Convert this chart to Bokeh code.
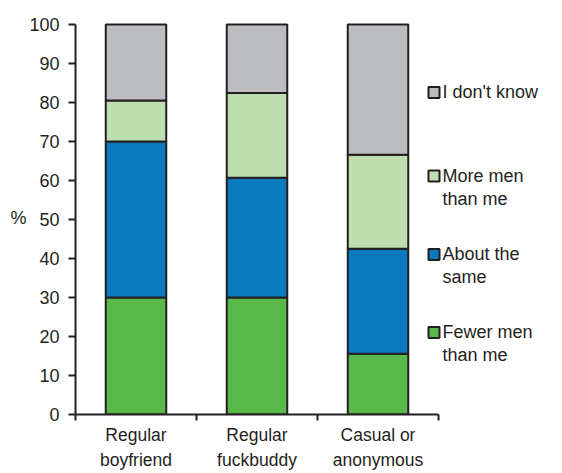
from bokeh.plotting import figure
from bokeh.models import ColumnDataSource, Range1d, FixedTicker, Label
from bokeh.core.properties import value
from bokeh.embed import file_html
from bokeh.resources import INLINE

# ---- data ----
categories = ["Regular\nboyfriend", "Regular\nfuckbuddy", "Casual or\nanonymous"]
fewer = [30.0, 30.0, 15.6]
about = [40.0, 30.7, 26.9]
more = [10.5, 21.7, 24.1]
dont_know = [19.5, 17.6, 33.4]
series_keys = ["fewer", "about", "more", "dont_know"]
series_names = ["Fewer men\nthan me", "About the\nsame", "More men\nthan me", "I don't know"]
colors = ["#59b84a", "#0a7abf", "#bddfb0", "#bcbdc0"]
y_ticks = list(range(0, 101, 10))
y_label = "%"

FONT = "Liberation Sans"
INK = "#231f20"
PX_PER_X = 121.0
PX_PER_Y = 3.9
Y0_PX = 414.0   # canvas y of value 0
X0_PX = 75.0    # canvas x of x=0

x_pos = [i + 0.5 for i in range(len(categories))]
src = ColumnDataSource(dict(x=x_pos, fewer=fewer, about=about, more=more, dont_know=dont_know))

p = figure(width=562, height=473,
           x_range=Range1d(0, 487 / PX_PER_X), y_range=Range1d(0, 101),
           output_backend="svg", toolbar_location=None,
           min_border_left=75, min_border_right=0, min_border_top=20, min_border_bottom=59)
p.outline_line_color = None
p.grid.visible = False

p.vbar_stack(series_keys, x="x", width=0.5, fill_color=colors,
             line_color=INK, line_width=2, source=src)

# y axis
yax = p.yaxis[0]
yax.ticker = FixedTicker(ticks=y_ticks)
yax.bounds = (0, 100)
yax.major_tick_out = 7
yax.major_tick_in = 0
yax.minor_tick_out = 0
yax.minor_tick_in = 0
yax.axis_line_width = 2
yax.axis_line_color = INK
yax.major_tick_line_width = 2
yax.major_tick_line_color = INK
yax.major_label_text_font = FONT
yax.major_label_text_font_size = "18px"
yax.major_label_text_color = INK
yax.major_label_standoff = 9

if "axis_label_orientation" in yax.properties():
    yax.axis_label = y_label
    yax.axis_label_orientation = "horizontal"
    yax.axis_label_text_font = FONT
    yax.axis_label_text_font_size = "18px"
    yax.axis_label_text_font_style = "normal"
    yax.axis_label_text_color = INK
    yax.axis_label_standoff = 0
else:
    p.add_layout(Label(x=(21 - X0_PX) / PX_PER_X, y=(Y0_PX - 212) / PX_PER_Y,
                       text=y_label, text_align="center", text_baseline="middle",
                       text_font=FONT, text_font_size="18px", text_color=INK,
                       level="overlay"))

# x axis (ticks at category boundaries, labels at centres)
xax = p.xaxis[0]
xax.ticker = FixedTicker(ticks=x_pos, minor_ticks=[0, 1, 2, 3])
xax.bounds = (0, 3)
xax.major_tick_line_color = None
xax.major_tick_out = 0
xax.major_tick_in = 0
xax.minor_tick_out = 6
xax.minor_tick_in = 0
xax.minor_tick_line_width = 2
xax.minor_tick_line_color = INK
xax.axis_line_width = 2
xax.axis_line_color = INK
xax.major_label_overrides = {x: c for x, c in zip(x_pos, categories)}
xax.major_label_text_font = FONT
xax.major_label_text_font_size = "17.5px"
xax.major_label_text_color = INK
xax.major_label_text_line_height = 1.28
xax.major_label_standoff = 4

# legend (drawn manually to allow two-line labels)
legend_y_px = [332, 254, 175.5, 92]
legend_y = [(Y0_PX - v) / PX_PER_Y for v in legend_y_px]
box_x = (433.5 - X0_PX) / PX_PER_X
text_x = (442 - X0_PX) / PX_PER_X
p.rect(x=[box_x] * 4, y=legend_y, width=11, height=11,
       width_units="screen", height_units="screen",
       fill_color=colors, line_color=INK, line_width=2)
tx, ty, tt, toff = [], [], [], []
for name, yy in zip(series_names, legend_y):
    for j, line in enumerate(name.split("\n")):
        tx.append(text_x)
        ty.append(yy)
        tt.append(line)
        toff.append(j * 23)
p.text(x=tx, y=ty, text=tt, y_offset=toff, text_font=value(FONT),
       text_font_size="18px", text_baseline="middle", text_align="left",
       text_color=INK)

open("out.html", "w").write(file_html(p, INLINE))
